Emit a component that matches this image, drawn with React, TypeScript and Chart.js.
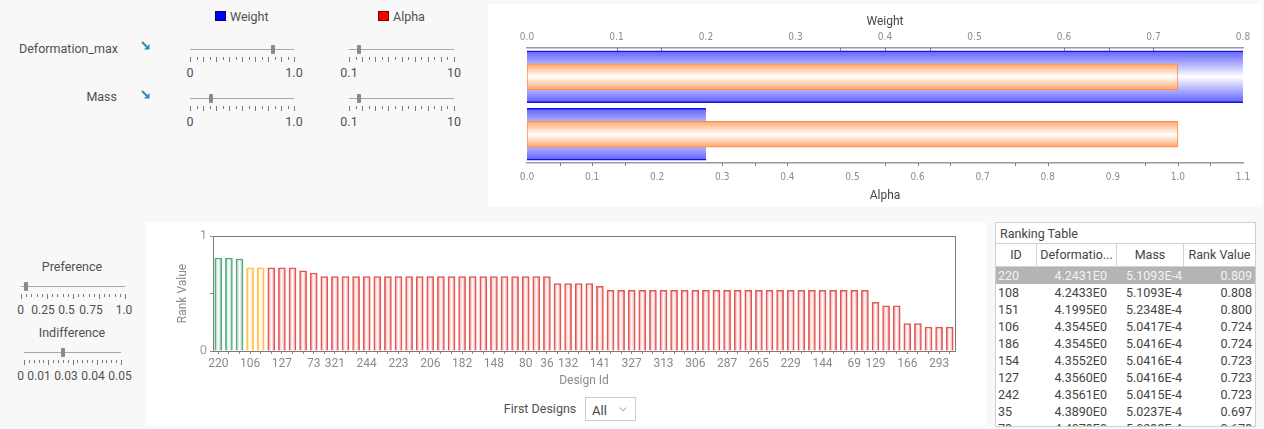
import React, { useEffect, useRef } from 'react';
import { Chart, registerables } from 'chart.js';

Chart.register(...registerables);

const FONT = 'Roboto, "Noto Sans", sans-serif';
const NARROW = '"Liberation Sans Narrow", "DejaVu Sans Condensed", sans-serif';

// ---------------- data ----------------
const criteria = ['Deformation_max', 'Mass'];
const weightValues = [0.8, 0.2];
const alphaValues = [1.0, 1.0];
const weightTickMarks = [0.1, 0.15, 0.35, 0.4, 0.45, 0.6, 0.65, 0.7];
const alphaTickMarks = [0.05, 0.1, 0.15, 0.3, 0.35, 0.4, 0.55, 0.6, 0.65, 0.75, 0.8, 0.95, 1.0, 1.05];

const designIds = [
  '220', '108', '151', '106', '186', '154', '127', '242', '35', '73',
  '', '321', '', '', '244', '', '', '223', '', '',
  '206', '', '', '182', '', '', '148', '', '', '80',
  '', '36', '', '132', '', '', '141', '', '', '327',
  '', '', '313', '', '', '306', '', '', '287', '',
  '', '265', '', '', '229', '', '', '144', '', '',
  '69', '', '129', '', '', '166', '', '', '293', '',
];
const labeledTicks = [0, 3, 6, 9, 11, 14, 17, 20, 23, 26, 29, 31, 33, 36, 39, 42, 45, 48, 51, 54, 57, 60, 62, 65, 68];
const rankValues = [
  0.809, 0.808, 0.800, 0.724, 0.724, 0.723, 0.723, 0.723, 0.697, 0.678,
  0.647, 0.647, 0.647, 0.647, 0.647, 0.647, 0.647, 0.647, 0.647, 0.647,
  0.647, 0.647, 0.647, 0.647, 0.647, 0.647, 0.647, 0.647, 0.647, 0.647,
  0.647, 0.647, 0.586, 0.586, 0.586, 0.586, 0.563, 0.528, 0.528, 0.528,
  0.528, 0.528, 0.528, 0.528, 0.528, 0.528, 0.528, 0.528, 0.528, 0.528,
  0.528, 0.528, 0.528, 0.528, 0.528, 0.528, 0.528, 0.528, 0.528, 0.528,
  0.528, 0.528, 0.423, 0.393, 0.393, 0.239, 0.239, 0.207, 0.207, 0.207,
];
const rankTickLabels = ['0', '1'];

const tableIds = ['220', '108', '151', '106', '186', '154', '127', '242', '35', '73'];
const tableDeformation = ['4.2431E0', '4.2433E0', '4.1995E0', '4.3545E0', '4.3545E0', '4.3552E0', '4.3560E0', '4.3561E0', '4.3890E0', '4.4079E0'];
const tableMass = ['5.1093E-4', '5.1093E-4', '5.2348E-4', '5.0417E-4', '5.0416E-4', '5.0416E-4', '5.0416E-4', '5.0415E-4', '5.0237E-4', '5.0233E-4'];
const tableRank = ['0.809', '0.808', '0.800', '0.724', '0.724', '0.723', '0.723', '0.723', '0.697', '0.678'];

const preferenceValue = 0.05;
const indifferenceValue = 0.02;
const preferenceLabels = ['0', '0.25', '0.5', '0.75', '1.0'];
const indifferenceLabels = ['0', '0.01', '0.03', '0.04', '0.05'];

// ---------------- helpers ----------------
function Txt({ x, y, children, size = 12.5, color = '#505050', align = 'center' }: any) {
  const tx = align === 'center' ? '-50%' : align === 'right' ? '-100%' : '0';
  return (
    <div style={{ position: 'absolute', left: x, top: y, transform: `translate(${tx}, -50%)`, fontSize: size, color, whiteSpace: 'nowrap', lineHeight: 1 }}>
      {children}
    </div>
  );
}

function Slider({ x, y, w, min, max, value, ticks, majorEvery, labels, labelX, labelSize = 12.5 }: any) {
  const frac = (value - min) / (max - min);
  const marks = [];
  for (let i = 0; i <= ticks; i++) {
    const major = i % majorEvery === 0;
    marks.push(
      <div key={i} style={{ position: 'absolute', left: Math.round(x + (i * w) / ticks), top: y + 8, width: 1, height: major ? 5 : 3, background: '#7a7a7a' }} />
    );
  }
  return (
    <>
      <div style={{ position: 'absolute', left: x, top: y, width: w, height: 1, background: '#a8a8a8' }} />
      <div style={{ position: 'absolute', left: x + frac * w - 2, top: y - 4, width: 4, height: 9, background: '#8a8a8a', borderRadius: 1 }} />
      {marks}
      {labels.map((t: string, i: number) => (
        <Txt key={t + i} x={labelX[i]} y={y + 24} size={labelSize}>{t}</Txt>
      ))}
    </>
  );
}

function Arrow({ x, y }: any) {
  return (
    <svg width={9} height={9} style={{ position: 'absolute', left: x, top: y }}>
      <path d="M1 1 L6 6" stroke="#2b8cba" strokeWidth={2} />
      <path d="M8.5 3 L8.5 8.5 L3 8.5 Z" fill="#2b8cba" />
    </svg>
  );
}

// ---------------- top-right chart ----------------
function CriteriaChart() {
  const ref = useRef<HTMLCanvasElement>(null);
  useEffect(() => {
    const grad = (c: any, edge: string, half: number, fallback: string) => {
      const ys = c.chart.scales?.y;
      if (c.dataIndex == null || !ys) return fallback;
      const cy = ys.getPixelForValue(c.dataIndex);
      if (!isFinite(cy)) return fallback;
      const g = c.chart.ctx.createLinearGradient(0, cy - half, 0, cy + half);
      g.addColorStop(0, edge);
      g.addColorStop(0.5, '#ffffff');
      g.addColorStop(1, edge);
      return g;
    };
    const tickMarks = {
      id: 'tickMarks',
      afterDraw(chart: any) {
        const { ctx, chartArea: a } = chart;
        ctx.save();
        ctx.strokeStyle = '#7a7a7a';
        ctx.lineWidth = 1;
        weightTickMarks.forEach((v) => {
          const px = Math.round(chart.scales.x.getPixelForValue(v)) + 0.5;
          ctx.beginPath(); ctx.moveTo(px, a.top); ctx.lineTo(px, a.top + 3); ctx.stroke();
        });
        alphaTickMarks.forEach((v) => {
          const px = Math.round(chart.scales.x2.getPixelForValue(v)) + 0.5;
          ctx.beginPath(); ctx.moveTo(px, a.bottom); ctx.lineTo(px, a.bottom + 3); ctx.stroke();
        });
        ctx.restore();
      },
    };
    const tickFont = { family: NARROW, size: 10 };
    const chart = new Chart(ref.current!, {
      type: 'bar',
      data: {
        labels: criteria,
        datasets: [
          {
            label: 'Weight', data: weightValues, xAxisID: 'x', grouped: false, order: 2, barThickness: 52,
            backgroundColor: (c: any) => grad(c, '#6060ff', 26, '#9999ff'),
            borderColor: '#1414e0', borderWidth: { top: 1.5, bottom: 1.5, left: 0, right: 0 }, borderSkipped: false,
          } as any,
          {
            label: 'Alpha', data: alphaValues, xAxisID: 'x2', grouped: false, order: 1, barThickness: 26,
            backgroundColor: (c: any) => grad(c, '#ffa36a', 13, '#ffc8a8'),
            borderColor: '#ff8a40', borderWidth: 1, borderSkipped: false,
          } as any,
        ],
      },
      options: {
        animation: false,
        responsive: true,
        maintainAspectRatio: false,
        indexAxis: 'y',
        layout: { padding: { left: 39, right: 19, top: 0, bottom: 0 } },
        plugins: { legend: { display: false }, tooltip: { enabled: false } },
        scales: {
          y: { display: false },
          x: {
            position: 'top', min: 0, max: 0.8,
            afterFit: (s: any) => { s.height = 44; },
            ticks: { stepSize: 0.1, padding: 5, color: '#8c8c8c', font: tickFont, maxRotation: 0, autoSkip: false, callback: (v: any) => Number(v).toFixed(1) },
            grid: { display: false, drawTicks: false },
            border: { display: true, color: '#9a9a9a', width: 1.5 },
            title: { display: true, text: 'Weight', color: '#444', font: { family: FONT, size: 12 }, padding: { top: 11, bottom: 0 } },
          },
          x2: {
            position: 'bottom', min: 0, max: 1.1,
            afterFit: (s: any) => { s.height = 44; },
            ticks: { stepSize: 0.1, padding: 8, color: '#8c8c8c', font: tickFont, maxRotation: 0, autoSkip: false, callback: (v: any) => Number(v).toFixed(1) },
            grid: { display: false, drawTicks: false },
            border: { display: true, color: '#9a9a9a', width: 1.5 },
            title: { display: true, text: 'Alpha', color: '#444', font: { family: FONT, size: 12 }, padding: { top: 0, bottom: 4 } },
          },
        },
      } as any,
      plugins: [tickMarks],
    });
    return () => chart.destroy();
  }, []);
  return (
    <div style={{ position: 'absolute', left: 488, top: 4, width: 774, height: 203, background: '#fff' }}>
      <canvas ref={ref} />
    </div>
  );
}

// ---------------- bottom rank chart ----------------
function RankChart() {
  const ref = useRef<HTMLCanvasElement>(null);
  useEffect(() => {
    const style = (i: number) =>
      i < 3 ? ['#52a87a', '#b2dac3'] : i < 5 ? ['#ffbd48', '#ffdfa3'] : ['#e25552', '#f3aeac'];
    const frame = {
      id: 'frame',
      afterDraw(chart: any) {
        const { ctx, chartArea: a } = chart;
        ctx.save();
        ctx.strokeStyle = '#7c7c7c';
        ctx.lineWidth = 1;
        ctx.strokeRect(Math.round(a.left) + 0.5, Math.round(a.top) + 0.5, Math.round(a.right - a.left), Math.round(a.bottom - a.top));
        ctx.restore();
      },
    };
    const chart = new Chart(ref.current!, {
      type: 'bar',
      data: {
        labels: designIds,
        datasets: [
          {
            label: 'Rank Value',
            data: rankValues,
            barThickness: 7,
            borderWidth: 1.5,
            borderSkipped: 'bottom',
            borderColor: (c: any) => style(c.dataIndex ?? 5)[0],
            backgroundColor: (c: any) => {
              const i = c.dataIndex;
              const edge = style(i ?? 5)[1];
              const xs = c.chart.scales?.x;
              if (i == null || !xs) return edge;
              const cx = xs.getPixelForValue(i);
              if (!isFinite(cx)) return edge;
              const g = c.chart.ctx.createLinearGradient(cx - 2.5, 0, cx + 2.5, 0);
              g.addColorStop(0, edge);
              g.addColorStop(0.5, '#ffffff');
              g.addColorStop(1, edge);
              return g;
            },
          } as any,
        ],
      },
      options: {
        animation: false,
        responsive: true,
        maintainAspectRatio: false,
        layout: { padding: { left: 24, right: 30, top: 14, bottom: 0 } },
        plugins: { legend: { display: false }, tooltip: { enabled: false } },
        scales: {
          x: {
            afterFit: (s: any) => { s.height = 41; },
            grid: { display: true, drawOnChartArea: false, offset: false, tickLength: 3, color: '#8a8a8a' },
            border: { display: true, color: '#7c7c7c' },
            ticks: {
              autoSkip: false, maxRotation: 0, padding: 3, color: '#8a8a8a', font: { family: FONT, size: 12 },
              callback: (_v: any, i: number) => (labeledTicks.includes(i) ? designIds[i] : ''),
            },
            title: { display: true, text: 'Design Id', color: '#8a8a8a', font: { family: FONT, size: 12 }, padding: { top: 0, bottom: 4 } },
          },
          y: {
            min: 0, max: 1,
            afterFit: (s: any) => { s.width = 41; },
            grid: { display: true, drawOnChartArea: false, tickLength: 3, color: '#8a8a8a' },
            border: { display: true, color: '#7c7c7c' },
            ticks: {
              stepSize: 0.5, padding: 3, color: '#a0a0a0', font: { family: FONT, size: 13 },
              callback: (v: any) => (v === 0 ? rankTickLabels[0] : v === 1 ? rankTickLabels[1] : ''),
            },
            title: { display: true, text: 'Rank Value', color: '#8a8a8a', font: { family: FONT, size: 12 }, padding: { top: 4, bottom: 0 } },
          },
        },
      } as any,
      plugins: [frame],
    });
    return () => chart.destroy();
  }, []);
  return (
    <div style={{ position: 'absolute', left: 148, top: 222, width: 837, height: 170 }}>
      <canvas ref={ref} />
    </div>
  );
}

// ---------------- table ----------------
function RankingTable() {
  const cols = [
    { w: 41, align: 'left', pad: 2 },
    { w: 80, align: 'right', pad: 10 },
    { w: 67, align: 'right', pad: 2 },
    { w: 71, align: 'right', pad: 3 },
  ];
  const headers = ['ID', 'Deformatio...', 'Mass', 'Rank Value'];
  return (
    <div style={{ position: 'absolute', left: 995, top: 222, width: 261, height: 205, background: '#fff', border: '1px solid #cfcfcf', boxSizing: 'border-box', overflow: 'hidden', fontSize: 12.5, color: '#444' }}>
      <div style={{ height: 20, lineHeight: '21px', paddingLeft: 4 }}>Ranking Table</div>
      <div style={{ display: 'flex', height: 24, boxSizing: 'border-box', borderTop: '1px solid #d2d2d2', borderBottom: '1px solid #d2d2d2' }}>
        {headers.map((h, i) => (
          <div key={h} style={{ width: cols[i].w, boxSizing: 'border-box', borderRight: i < 3 ? '1px solid #d2d2d2' : 'none', textAlign: 'center', lineHeight: '22px', whiteSpace: 'nowrap', overflow: 'hidden' }}>{h}</div>
        ))}
      </div>
      {tableIds.map((id, r) => {
        const sel = r === 0;
        const cells = [id, tableDeformation[r], tableMass[r], tableRank[r]];
        return (
          <div key={id} style={{ display: 'flex', height: 17, lineHeight: '17px', background: sel ? '#b4b4b4' : '#fff', color: sel ? '#f2f2f2' : '#444' }}>
            {cells.map((t, i) => (
              <div key={i} style={{ width: cols[i].w, boxSizing: 'border-box', textAlign: cols[i].align as any, paddingLeft: cols[i].align === 'left' ? cols[i].pad : 0, paddingRight: cols[i].align === 'right' ? cols[i].pad : 0, whiteSpace: 'nowrap' }}>{t}</div>
            ))}
          </div>
        );
      })}
    </div>
  );
}

// ---------------- app ----------------
export default function App() {
  return (
    <div style={{ position: 'absolute', left: 0, top: 0, width: 1264, height: 429, background: '#f8f8f8', fontFamily: FONT, overflow: 'hidden' }}>
      {/* top-left: criteria sliders */}
      <div style={{ position: 'absolute', left: 215, top: 11, width: 11, height: 10, background: '#0000ff', border: '1px solid #00006a', boxSizing: 'border-box' }} />
      <Txt x={230} y={16.5} align="left">Weight</Txt>
      <div style={{ position: 'absolute', left: 378, top: 11, width: 11, height: 10, background: '#ff0000', border: '1px solid #6a0000', boxSizing: 'border-box' }} />
      <Txt x={393} y={16.5} align="left">Alpha</Txt>

      <Txt x={19} y={48.5} align="left">{criteria[0]}</Txt>
      <Arrow x={141} y={41} />
      <Slider x={190} y={49} w={104} min={0} max={1} value={weightValues[0]} ticks={16} majorEvery={2} labels={['0', '1.0']} labelX={[190, 294]} />
      <Slider x={349} y={49} w={105} min={0.1} max={10} value={alphaValues[0]} ticks={16} majorEvery={2} labels={['0.1', '10']} labelX={[349, 454]} />

      <Txt x={117} y={97} align="right">{criteria[1]}</Txt>
      <Arrow x={141} y={90} />
      <Slider x={190} y={98} w={104} min={0} max={1} value={weightValues[1]} ticks={16} majorEvery={2} labels={['0', '1.0']} labelX={[190, 294]} />
      <Slider x={349} y={98} w={105} min={0.1} max={10} value={alphaValues[1]} ticks={16} majorEvery={2} labels={['0.1', '10']} labelX={[349, 454]} />

      <CriteriaChart />

      {/* bottom-left: preference / indifference */}
      <Txt x={72} y={267}>Preference</Txt>
      <Slider x={21} y={286} w={104} min={0} max={1} value={preferenceValue} ticks={20} majorEvery={5} labels={preferenceLabels} labelX={[20.5, 43, 66.5, 91, 124]} labelSize={12} />
      <Txt x={72} y={333}>Indifference</Txt>
      <Slider x={24} y={352} w={97} min={0} max={0.05} value={indifferenceValue} ticks={20} majorEvery={5} labels={indifferenceLabels} labelX={[20.5, 39, 66, 93, 120]} labelSize={12} />

      {/* bottom-middle: rank chart */}
      <div style={{ position: 'absolute', left: 146, top: 222, width: 840, height: 204, background: '#fff' }} />
      <RankChart />
      <Txt x={540} y={409}>First Designs</Txt>
      <div style={{ position: 'absolute', left: 585, top: 397, width: 51, height: 24, boxSizing: 'border-box', border: '1px solid #cccccc', background: '#fff' }}>
        <Txt x={6} y={11.5} align="left" size={13} color="#444">All</Txt>
        <svg width={8} height={5} style={{ position: 'absolute', left: 33, top: 9 }}>
          <polyline points="0.5,0.5 4,4 7.5,0.5" fill="none" stroke="#999" strokeWidth={1} />
        </svg>
      </div>

      <RankingTable />
    </div>
  );
}
